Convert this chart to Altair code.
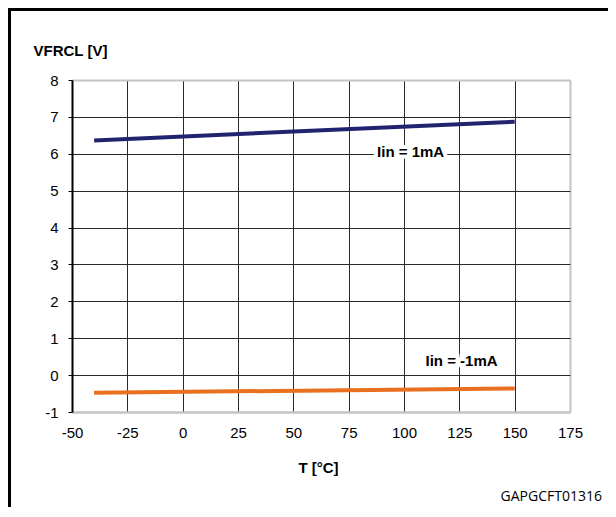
import altair as alt
import pandas as pd

# Data
temps = [-40, 150]
vfrcl_pos = [6.36, 6.87]   # Iin = 1mA
vfrcl_neg = [-0.48, -0.36] # Iin = -1mA
series_names = ["Iin = 1mA", "Iin = -1mA"]
series_colors = ["#22236F", "#E8701E"]

label_text = ["Iin = 1mA", "Iin = -1mA"]
label_t = [103, 126]
label_v = [6.04, 0.39]

x_ticks = [-50, -25, 0, 25, 50, 75, 100, 125, 150, 175]
y_ticks = [-1, 0, 1, 2, 3, 4, 5, 6, 7, 8]

rows = []
for t, v in zip(temps, vfrcl_pos):
    rows.append({"T": t, "V": v, "s": series_names[0]})
for t, v in zip(temps, vfrcl_neg):
    rows.append({"T": t, "V": v, "s": series_names[1]})
df = pd.DataFrame(rows)
labels = pd.DataFrame({"T": label_t, "V": label_v, "txt": label_text})

W, H = 498, 332
PL, PT, PR, PB = 64, 72, 38, 95
FONT = "Liberation Sans"

xscale = alt.Scale(domain=[-50, 175], nice=False, zero=False)
yscale = alt.Scale(domain=[-1, 8], nice=False, zero=False)

xaxis = alt.Axis(
    values=x_ticks, tickCount=20, grid=True, ticks=False, tickSize=0,
    labelOverlap=False, labelFlush=False, labelExpr="datum.value + ''",
    gridColor={"condition": {"test": "datum.value == 175", "value": "#c4c4c4"}, "value": "#2a2a2a"},
    gridWidth={"condition": {"test": "datum.value == 175", "value": 2}, "value": 1},
    domainColor="#c4c4c4", domainWidth=2,
    labelFont=FONT, labelFontSize=15, labelColor="#000", labelPadding=13,
    title="T [°C]", titleFont=FONT, titleFontSize=15, titleFontWeight="bold",
    titleColor="#000", titleX=246, titleY=55, titleBaseline="middle", titleAlign="center",
)
yaxis = alt.Axis(
    values=y_ticks, tickCount=20, grid=True, ticks=True, tickSize=4, tickColor="#000", tickWidth=1,
    labelOverlap=False, labelFlush=False, labelExpr="datum.value + ''",
    gridColor={"condition": {"test": "datum.value == 8 || datum.value == -1", "value": "#c4c4c4"}, "value": "#2a2a2a"},
    gridWidth={"condition": {"test": "datum.value == 8 || datum.value == -1", "value": 2}, "value": 1},
    domainColor="#000", domainWidth=2,
    labelFont=FONT, labelFontSize=15, labelColor="#000", labelPadding=10,
    title="VFRCL [V]", titleFont=FONT, titleFontSize=15, titleFontWeight="bold",
    titleColor="#000", titleAngle=0, titleAlign="left", titleBaseline="middle",
    titleX=-39, titleY=-30,
)

lines = alt.Chart(df).mark_line(strokeWidth=4).encode(
    x=alt.X("T:Q", scale=xscale, axis=xaxis),
    y=alt.Y("V:Q", scale=yscale, axis=yaxis),
    color=alt.Color("s:N", scale=alt.Scale(domain=series_names, range=series_colors), legend=None),
)

halo = alt.Chart(labels).mark_text(
    font=FONT, fontSize=15, fontWeight="bold", stroke="white", strokeWidth=8,
    fill="white", align="center", baseline="middle",
).encode(x=alt.X("T:Q", scale=xscale, axis=xaxis), y=alt.Y("V:Q", scale=yscale, axis=yaxis), text="txt:N")

txt = alt.Chart(labels).mark_text(
    font=FONT, fontSize=15, fontWeight="bold", color="#000", align="center", baseline="middle",
).encode(x=alt.X("T:Q", scale=xscale, axis=xaxis), y=alt.Y("V:Q", scale=yscale, axis=yaxis), text="txt:N")

code = alt.Chart(pd.DataFrame({"c": ["GAPGCFT01316"]})).mark_text(
    font="Open Sans", fontSize=14, color="#000", align="right", baseline="middle",
).encode(x=alt.value(530), y=alt.value(417), text="c:N")

frame = alt.Chart(pd.DataFrame({"a": [0]})).mark_rect(
    fill=None, stroke="#000", strokeWidth=3,
).encode(
    x=alt.value(-PL + 1.5), y=alt.value(-PT + 1.5),
    x2=alt.value(W + PR + 10), y2=alt.value(H + PB + 10),
)

chart = alt.layer(lines, halo, txt, code, frame).properties(
    width=W, height=H,
    autosize=alt.AutoSizeParams(type="none"),
    padding={"left": PL, "top": PT, "right": PR, "bottom": PB},
    background="white",
).configure_view(stroke=None)

chart.save("out.html", embed_options={"renderer": "svg", "actions": False})
